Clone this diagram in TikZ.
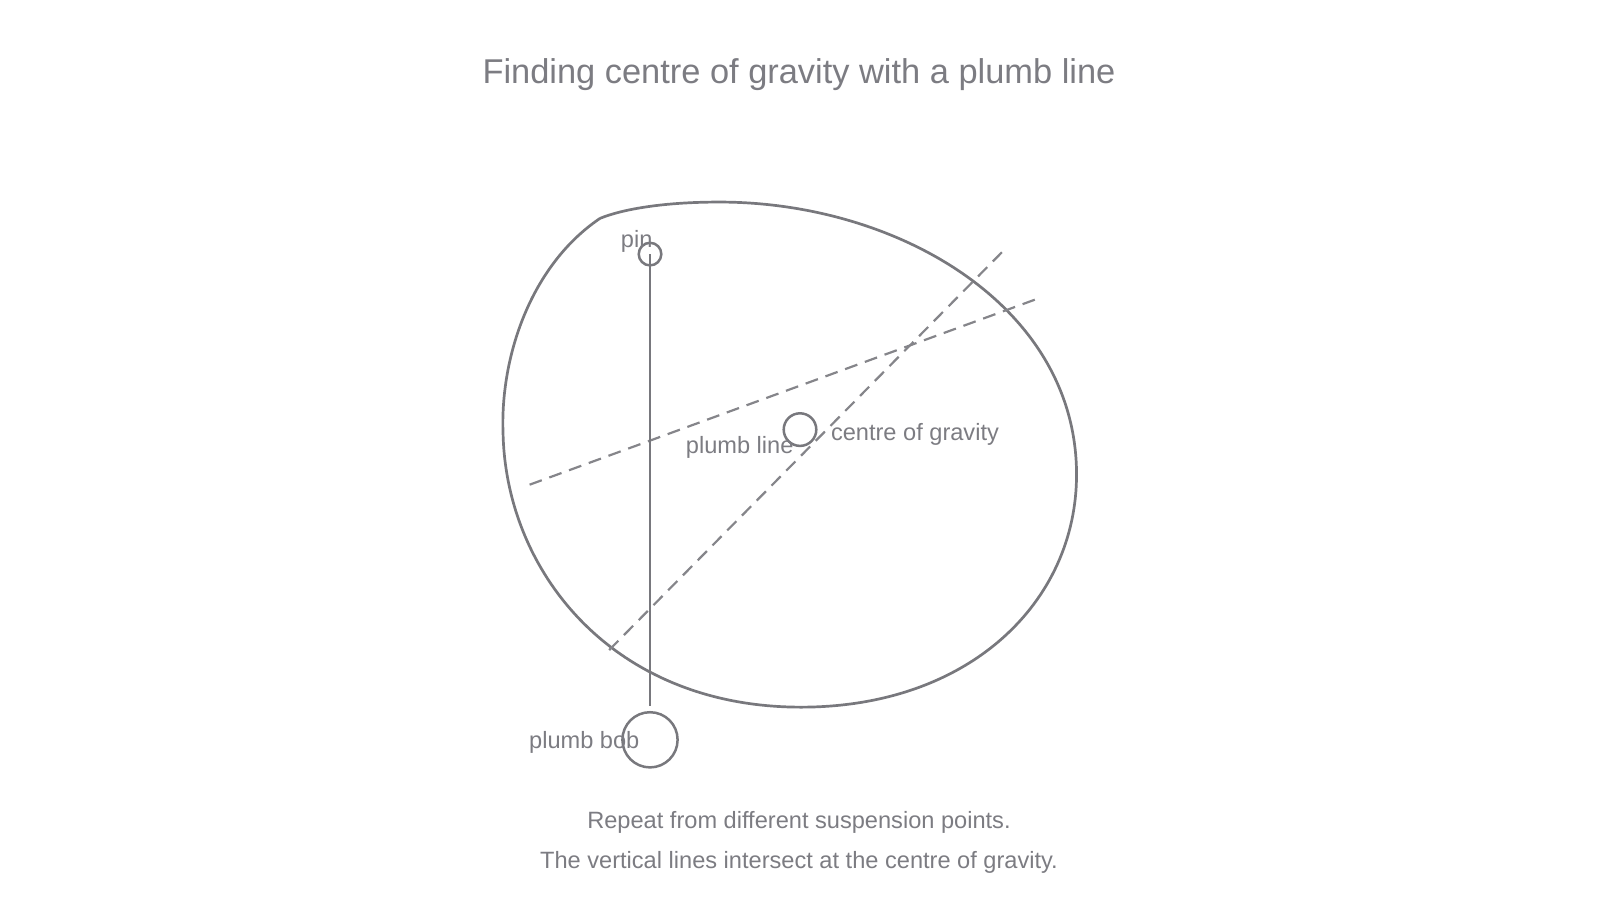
\documentclass[tikz,border=0pt]{standalone}
\usepackage{fontspec}
\setmainfont{Liberation Sans}
\usepackage{xcolor}
\definecolor{inkgray}{HTML}{78787D}
\definecolor{textgray}{HTML}{7C7C82}

\begin{document}
\begin{tikzpicture}[x=0.5102pt,y=-0.5102pt,
    ring/.style={circle,draw=inkgray,line width=1.25pt,inner sep=0pt},
    lbl/.style={text=textgray,font=\fontsize{11.8pt}{14pt}\selectfont,inner sep=0pt},
    guide/.style={draw=inkgray!90,line width=1.1pt,dash pattern=on 6.5pt off 4pt}]
            \useasboundingbox (0,0) rectangle (1568,882);

            \node (title) at (783,73) [text=textgray,font=\fontsize{17.2pt}{20pt}\selectfont] {Finding centre of gravity with a plumb line};

            \draw[inkgray,line width=1.35pt] (588,214) .. controls (520,260) and (490,350) .. (493,425)
                .. controls (496,560) and (600,693) .. (785,693)
                .. controls (950,693) and (1055,590) .. (1055,465)
                .. controls (1055,300) and (880,198) .. (705,198)
                .. controls (650,198) and (610,205) .. (588,214);

            \coordinate (g1a) at (519,475);
            \coordinate (g1b) at (1016,293);
            \coordinate (g2a) at (597,637);
            \coordinate (g2b) at (986,243);
            \draw[guide] (g1a) -- (g1b);
            \draw[guide] (g2a) -- (g2b);

            \node (pin) at (637,249) [ring,minimum size=11.3pt] {};
            \node (bob) at (637,725) [ring,minimum size=27.6pt] {};
            \node (cog) at (784,421) [ring,minimum size=16.3pt] {};
            \coordinate (lineend) at (637,692);
            \draw[inkgray,line width=1.3pt] (pin.center) -- (lineend);

            \node[lbl] (pinlbl) at (624,237) {pin};
            \node[lbl,anchor=east] (linelbl) at (778,438) {plumb line};
            \node[lbl,anchor=west] (coglbl) at (814,426) {centre of gravity};
            \node[lbl,anchor=east] (boblbl) at (627,728) {plumb bob};

            \node[lbl] (note1) at (783,806) {Repeat from different suspension points.};
            \node[lbl] (note2) at (783,845) {The vertical lines intersect at the centre of gravity.};
\end{tikzpicture}
\end{document}
